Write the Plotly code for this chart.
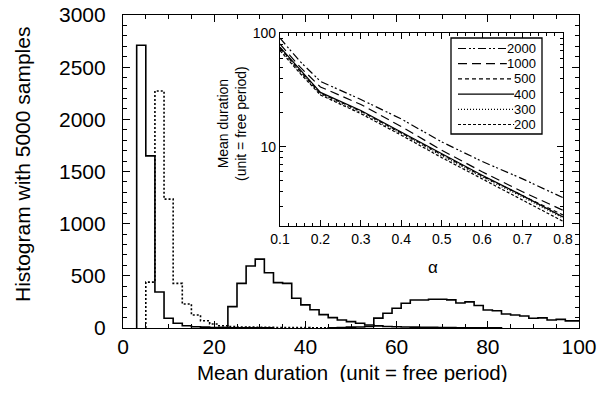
import plotly.graph_objects as go

# ---------------- main histogram data (bin width 2) ----------------
bin_width = 2
hA_start = 3   # solid, sharp peak
hA_counts = [2710, 1650, 345, 93, 45, 22, 12, 8, 5, 4, 3, 2, 2, 1, 1]
hB_start = 5   # dotted
hB_counts = [440, 2272, 1235, 428, 230, 125, 70, 38, 22, 15, 10, 8, 7, 6, 5, 5, 4, 4, 3, 3, 2, 2]
hC_start = 21  # solid, peak near 30
hC_counts = [4, 205, 428, 594, 660, 530, 435, 428, 285, 222, 175, 128, 99, 77, 61, 45, 29, 20, 15, 12,
             10, 8, 7, 6, 5, 4, 3, 3, 2, 2, 1]
hD_start = 45  # solid, peak near 68
hD_counts = [3, 5, 8, 10, 15, 95, 141, 189, 237, 268, 268, 275, 275, 270, 240, 250, 216, 173, 165,
             134, 124, 115, 93, 97, 77, 83, 68, 68]

# ---------------- inset data ----------------
alpha = [0.1, 0.15, 0.2, 0.3, 0.4, 0.5, 0.6, 0.7, 0.8]
series_names = ["2000", "1000", "500", "400", "300", "200"]
s2000 = [90, 56, 37.5, 26, 17.5, 11.0, 7.4, 5.2, 3.55]
s1000 = [80, 50, 33.5, 23.5, 15.0, 9.3, 6.0, 4.0, 2.75]
s500 = [74, 46, 29.5, 20.5, 13.2, 8.5, 5.5, 3.7, 2.5]
s400 = [75, 47, 30.0, 20.8, 13.4, 8.6, 5.6, 3.7, 2.4]
s300 = [72, 45, 29.0, 20.0, 13.0, 8.3, 5.4, 3.6, 2.35]
s200 = [70, 44, 28.5, 19.5, 12.6, 8.0, 5.2, 3.4, 2.2]
series_vals = [s2000, s1000, s500, s400, s300, s200]
series_dash = ["8px,3px,2px,2px,2px,3px", "9px,5px", "4px,3px", "solid", "1px,2px", "3px,2px"]

FONT = "Liberation Sans, Arial, Helvetica, sans-serif"

def step_xy(start, counts):
    xs = [start] + [start + bin_width * i for i in range(len(counts))] + [start + bin_width * len(counts)]
    ys = [0] + list(counts) + [0]
    return xs, ys

fig = go.Figure()
for start, counts, dash in [(hA_start, hA_counts, "solid"), (hB_start, hB_counts, "2px,2px"),
                            (hC_start, hC_counts, "solid"), (hD_start, hD_counts, "solid")]:
    xs, ys = step_xy(start, counts)
    fig.add_trace(go.Scatter(x=xs, y=ys, mode="lines", line_shape="hv",
                             line=dict(color="black", width=1.6, dash=dash),
                             showlegend=False, xaxis="x", yaxis="y", hoverinfo="skip"))

for name, vals, dash in zip(series_names, series_vals, series_dash):
    fig.add_trace(go.Scatter(x=alpha, y=vals, mode="lines", name=name, showlegend=False,
                             line=dict(color="black", width=1.2, dash=dash),
                             xaxis="x2", yaxis="y2"))

W, H = 598, 393
ml, mr, mt, mb = 123, 19, 15, 65
pw, ph = W - ml - mr, H - mt - mb

def px2fx(px):
    return (px - ml) / pw

def py2fy(py):
    return (H - mb - py) / ph

axis_common = dict(showline=True, linecolor="black", linewidth=1.2, mirror="allticks",
                   ticks="inside", tickcolor="black", showgrid=False, zeroline=False,
                   automargin=False)

# manual legend (box, line samples, right-aligned labels)
shapes = [dict(type="rect", xref="paper", yref="paper",
               x0=px2fx(451), x1=px2fx(542), y0=py2fy(134), y1=py2fy(38),
               line=dict(color="black", width=1.3), fillcolor="white", layer="above")]
annotations = []
leg_text_right = 537
for i, (name, dash) in enumerate(zip(series_names, series_dash)):
    yc = 48.5 + i * 15.2
    text_w = len(name) * 7.3
    shapes.append(dict(type="line", xref="paper", yref="paper",
                       x0=px2fx(458), x1=px2fx(leg_text_right - text_w - 1),
                       y0=py2fy(yc), y1=py2fy(yc), layer="above",
                       line=dict(color="black", width=1.2, dash=dash)))
    annotations.append(dict(xref="paper", yref="paper", x=px2fx(leg_text_right), y=py2fy(yc),
                            xanchor="right", yanchor="middle", showarrow=False, height=13,
                            borderpad=0, text=name, font=dict(size=13, family=FONT, color="black")))

# axis titles placed as annotations for exact positioning
annotations.append(dict(xref="paper", yref="paper", x=px2fx(352), y=py2fy(372),
                        xanchor="center", yanchor="middle", showarrow=False, height=20, borderpad=0,
                        text="Mean duration  (unit = free period)", font=dict(size=20.5)))
annotations.append(dict(xref="paper", yref="paper", x=px2fx(22), y=py2fy(165),
                        xanchor="center", yanchor="middle", showarrow=False, textangle=-90,
                        text="Histogram with 5000 samples", font=dict(size=21)))
annotations.append(dict(xref="paper", yref="paper", x=px2fx(232), y=py2fy(124),
                        xanchor="center", yanchor="middle", showarrow=False, textangle=-90,
                        text="Mean duration<br>(unit = free period)", font=dict(size=14)))
annotations.append(dict(xref="paper", yref="paper", x=px2fx(433), y=py2fy(267),
                        xanchor="center", yanchor="middle", showarrow=False,
                        text="α", font=dict(size=17)))

fig.update_layout(
    width=W, height=H, margin=dict(l=ml, r=mr, t=mt, b=mb),
    paper_bgcolor="white", plot_bgcolor="white",
    font=dict(family=FONT, color="black"),
    xaxis=dict(range=[0, 100], tickvals=[0, 20, 40, 60, 80, 100], ticklen=7,
               minor=dict(dtick=5, ticklen=4, ticks="inside", tickcolor="black"),
               tickfont=dict(size=21), ticklabelstandoff=0,
               **axis_common),
    yaxis=dict(range=[0, 3000], tickvals=[0, 500, 1000, 1500, 2000, 2500, 3000], ticklen=7,
               minor=dict(dtick=100, ticklen=4, ticks="inside", tickcolor="black"),
               tickfont=dict(size=21), ticklabelstandoff=12,
               **axis_common),
    xaxis2=dict(domain=[px2fx(280), px2fx(563)], anchor="y2", range=[0.1, 0.8],
                tickvals=[0.1, 0.2, 0.3, 0.4, 0.5, 0.6, 0.7, 0.8], ticklen=6,
                minor=dict(dtick=0.02, ticklen=3, ticks="inside", tickcolor="black"),
                tickfont=dict(size=14),
                **axis_common),
    yaxis2=dict(domain=[py2fy(226), py2fy(33)], anchor="x2", type="log",
                range=[0.30103, 2], tickvals=[10, 100], ticktext=["10", "100"], ticklen=6,
                minor=dict(tickvals=[2, 3, 4, 5, 6, 7, 8, 9, 20, 30, 40, 50, 60, 70, 80, 90],
                           ticklen=3, ticks="inside", tickcolor="black"),
                tickfont=dict(size=14),
                **axis_common),
    shapes=shapes,
    annotations=annotations,
    showlegend=False,
)

fig.write_html("out.html")
